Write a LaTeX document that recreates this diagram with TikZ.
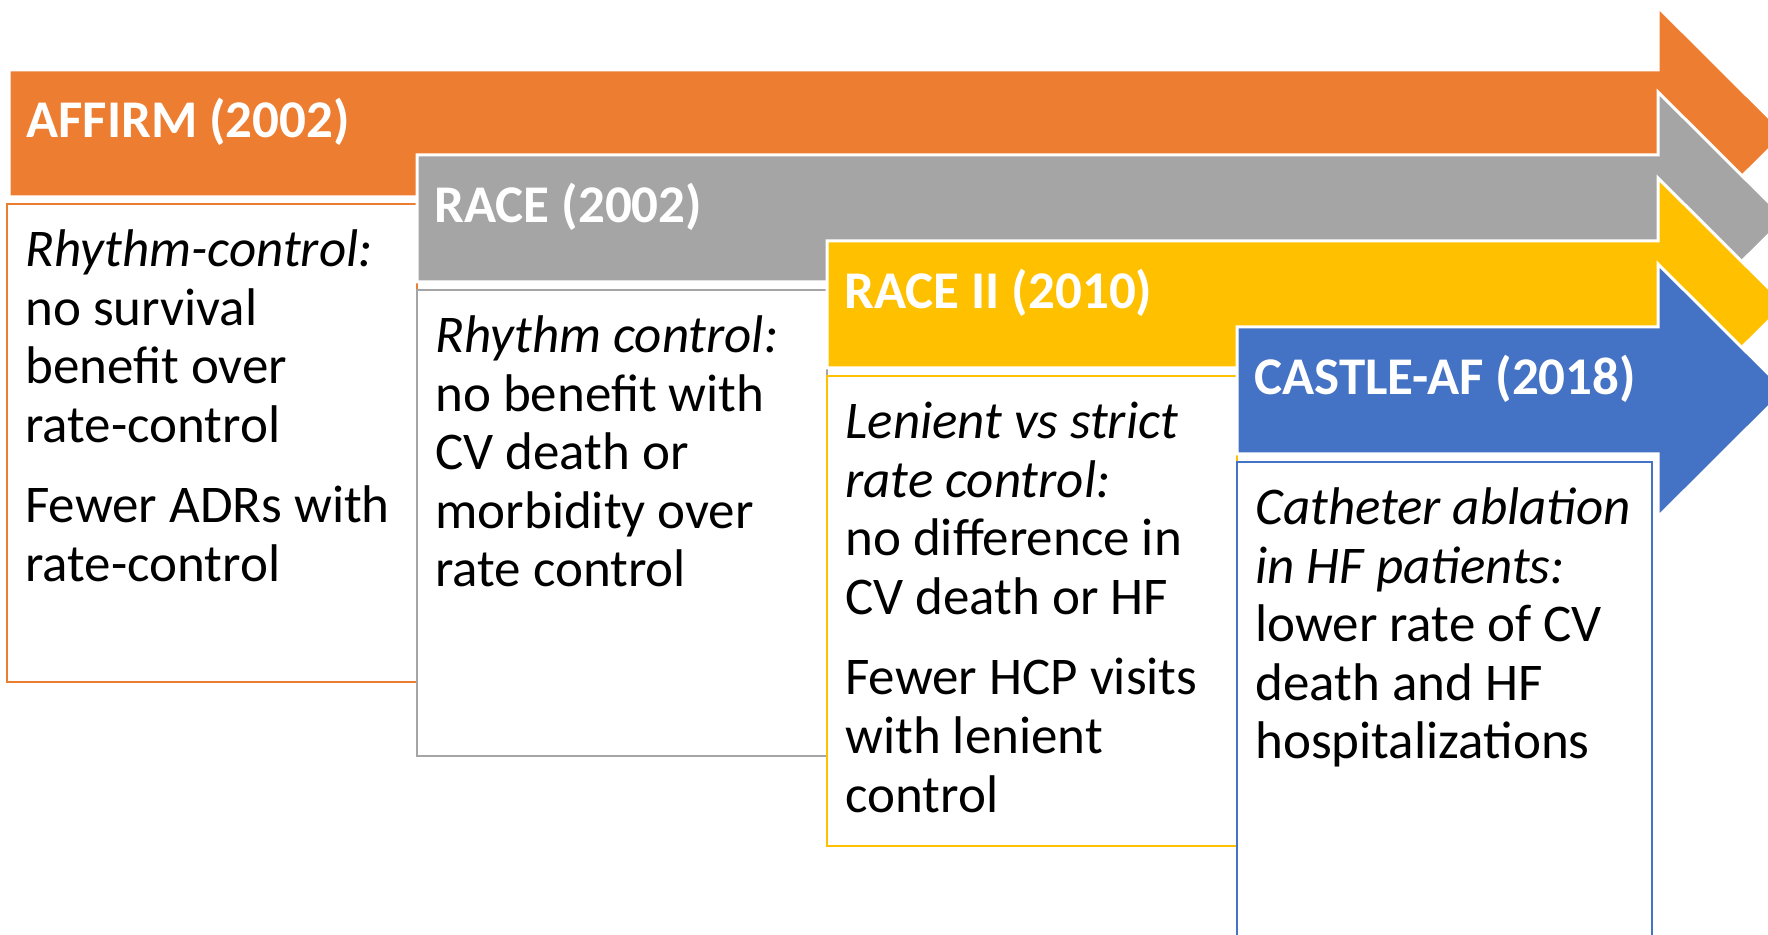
\documentclass[tikz,border=0pt]{standalone}
\usepackage{fontspec}
\setmainfont{Carlito}
\usepackage{tikz}
\tikzset{>=latex}

\definecolor{affirmOrange}{HTML}{ED7D31}
\definecolor{raceGray}{HTML}{A5A5A5}
\definecolor{raceYellow}{HTML}{FFC000}
\definecolor{castleBlue}{HTML}{4472C4}

\tikzset{
  trialtitle/.style={anchor=base west,inner sep=0pt,text=white,
    font=\bfseries\fontsize{26.5}{32}\selectfont},
  finding/.style={anchor=north west,inner sep=0pt,align=left,
    font=\fontsize{26.5}{29.3}\selectfont}
}

\begin{document}
\begin{tikzpicture}[x=0.5pt,y=-0.5pt]
  % limits
  \def\tipX{1658}  % where the shafts end
  \def\barH{127}   % shaft height
  \def\headH{63}   % head overhang above and below the shaft
  \def\tipL{127}   % head length
  \def\gap{11pt}   % space between two findings

  \useasboundingbox (0,0) rectangle (1768,935);
  \clip (0,0) rectangle (1768,935);

  % help functions

        % Arrow bar with the trial name on it
  \def\trialArrow(#1,#2,#3,#4,#5){
    \draw[white,line width=1.5pt,fill=#3]
      (#1,#2) -- (\tipX,#2) -- (\tipX,#2-\headH)
      -- (\tipX+\tipL,#2+\barH/2)
      -- (\tipX,#2+\barH+\headH) -- (\tipX,#2+\barH) -- (#1,#2+\barH) -- cycle;
    \node[trialtitle] (#4) at (#1+17,#2+68) {#5};}

        % Framed box with the findings below a bar
        % (first baseline sits 22pt under the node top)
  \def\trialBox(#1,#2,#3,#4,#5,#6,#7){
    \draw[#5,line width=1pt] (#1,#2) rectangle (#3,#4);
    \node[finding] (#6) at (#1+18,#2+18) {\rule{0pt}{22pt}#7};}

  % AFFIRM
    \trialArrow(9,70,affirmOrange,affirm,{AFFIRM (2002)})
    \trialBox(7,204,417,682,affirmOrange,affirmText,%
      \textit{Rhythm-control:}\\ no survival\\ benefit over\\ rate-control\\[\gap]
      Fewer ADRs with\\ rate-control)

  % RACE
    \trialArrow(417,155,raceGray,race,{RACE (2002)})
    \trialBox(417,290,827,756,raceGray,raceText,%
      \textit{Rhythm control:}\\ no benefit with\\ CV death or\\ morbidity over\\ rate control)

  % RACE II
    \trialArrow(827,241,raceYellow,raceTwo,{RACE II (2010)})
    \trialBox(827,376,1237,846,raceYellow,raceTwoText,%
      \textit{Lenient vs strict}\\ \textit{rate control:}\\ no difference in\\ CV death or HF\\[\gap]
      Fewer HCP visits\\ with lenient\\ control)

  % CASTLE-AF
    \trialArrow(1237,327,castleBlue,castle,{CASTLE-AF (2018)})
    \trialBox(1237,462,1652,950,castleBlue,castleText,%
      \textit{Catheter ablation}\\ \textit{in HF patients:}\\ lower rate of CV\\ death and HF\\ hospitalizations)

\end{tikzpicture}
\end{document}
